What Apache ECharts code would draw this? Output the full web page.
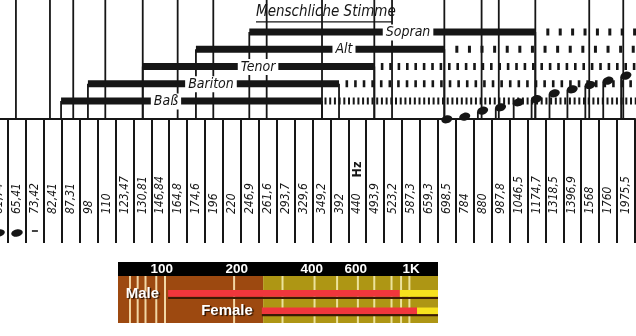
<!DOCTYPE html>
<html><head><meta charset="utf-8">
<script src="https://cdn.jsdelivr.net/npm/echarts@6/dist/echarts.min.js"></script>
<style>html,body{margin:0;padding:0;background:#fff}#c{width:636px;height:336px}</style>
</head><body><div id="c"></div>
<script>
// ===================== DATA =====================
// Frequency columns (white keys) in Hz, German decimal comma
const freqLabels = ['61,74','65,41','73,42','82,41','87,31','98','110','123,47','130,81','146,84','164,8','174,6','196','220','246,9','261,6','293,7','329,6','349,2','392','440','493,9','523,2','587,3','659,3','698,5','784','880','987,8','1046,5','1174,7','1318,5','1396,9','1568','1760','1975,5'];

// Voice ranges, in key-column units (0 = first column)
const voices = ['Sopran', 'Alt', 'Tenor', 'Bariton', 'Baß'];
const voiceLowStep  = [13.97, 10.99, 8.02, 4.96, 3.46];
const voiceHighStep = [29.94, 24.86, 20.95, 18.98, 18.03];

// Reference lines of the upper panel (key-column units)
const refLineSteps = [0.94, 2.84, 4.14, 5.93, 8.02, 9.97, 11.96, 14.94, 18.03, 20.95, 21.94, 24.86, 26.94, 27.90, 29.94, 32.95, 34.85];

// Note heads (column, height above the separator line)
const noteSteps   = [25, 26, 27, 28, 29, 30, 31, 32, 33, 34, 35];
const noteHeights = [-1.3, 1.3, 7.3, 10.7, 15.7, 19, 24.7, 28.7, 33, 37.3, 42.3];
const lowNoteSteps   = [0, 1];
const lowNoteHeights = [10, 10];
const lowDashSteps   = [2];
const lowDashHeights = [12];

// Lower (colour) chart
const groups      = ['Male', 'Female'];
const groupRow    = [1, 2];
const rangeLowHz  = [106, 252];
const rangeHighHz = [902, 1057];
const freqAxisMin = 66.7;
const freqAxisMax = 1283;
const bandEdgesHz = [66.7, 255, 1283];
const gridHz      = [74.5, 80, 86, 95, 103, 195, 305, 410, 505, 612, 712, 835, 912, 985];
const tickHz      = [100, 200, 400, 600, 1000];
const titleText   = 'Menschliche Stimme';

// ===================== STYLE / LAYOUT =====================
const INK = '#161616';
const X_LEFT = -9.86, X_RIGHT = 1.1;
const SEP_Y = 118.5;
const COND = "'DejaVu Sans Condensed', 'DejaVu Sans', sans-serif";
const VOICE_STYLE = [
  { labelFrac: 0.555, gap: 11,  dash: [3, 9.4] },
  { labelFrac: 0.596, gap: 11,  dash: [3, 9.6] },
  { labelFrac: 0.498, gap: 6.5, dash: [2.6, 5.8] },
  { labelFrac: 0.490, gap: 6.5, dash: [2.6, 6] },
  { labelFrac: 0.402, gap: 2.5, dash: [2, 2.7] }
];
const BAND_COLORS = ['#9d4910', '#ae9614'];
const GRID_LINE_COLORS = ['#f2d6a4', '#ece29c'];
const RED = '#f0363c', YELLOW = '#f7e21e', SHADOW = '#3a1b04';
const SCALE_BAND_H = 14;

// ===================== CHART =====================
const chart = echarts.init(document.getElementById('c'), null, { renderer: 'canvas', width: 636, height: 336 });

const gridBase = { left: X_LEFT, right: X_RIGHT, containLabel: false, outerBoundsMode: 'none' };

function renderRefLine(params, api) {
  const a = api.coord([api.value(0), 0]);
  const b = api.coord([api.value(0), 118]);
  return { type: 'line', shape: { x1: a[0], y1: SEP_Y, x2: b[0], y2: b[1] - 2 }, style: { stroke: INK, lineWidth: 1.8 } };
}

function renderVoice(params, api) {
  const i = params.dataIndex;
  const yv = api.value(2);
  const p0 = api.coord([api.value(0), yv]);
  const p1 = api.coord([api.value(1), yv]);
  const cs = params.coordSys;
  const y = p0[1];
  const st = VOICE_STYLE[i];
  const lx = p0[0] + (p1[0] - p0[0]) * st.labelFrac;
  return {
    type: 'group',
    children: [
      { type: 'line', shape: { x1: p0[0], y1: y, x2: p0[0], y2: SEP_Y }, style: { stroke: INK, lineWidth: 1.8 } },
      { type: 'line', shape: { x1: p1[0], y1: y, x2: p1[0], y2: SEP_Y }, style: { stroke: INK, lineWidth: 1.8 } },
      { type: 'rect', shape: { x: p0[0], y: y - 3.5, width: p1[0] - p0[0], height: 7 }, style: { fill: INK } },
      { type: 'line', shape: { x1: p1[0] + st.gap, y1: y, x2: cs.x + cs.width + 20, y2: y },
        style: { stroke: INK, lineWidth: 7, lineDash: st.dash, lineCap: 'butt' } },
      { type: 'text', x: lx, y: y + 0.5,
        style: { text: voices[i], align: 'center', verticalAlign: 'middle', fontSize: 14, fontStyle: 'italic',
                 fontFamily: COND, fill: INK, backgroundColor: '#fff', padding: [1, 3] } }
    ]
  };
}

function renderNote(params, api) {
  const p = api.coord([api.value(0), api.value(1)]);
  const children = [
    { type: 'ellipse', shape: { cx: p[0], cy: p[1], rx: 5.6, ry: 3.9 }, rotation: 0.3, originX: p[0], originY: p[1], style: { fill: INK } }
  ];
  if (p[1] < SEP_Y - 4) {
    children.push({ type: 'line', shape: { x1: p[0] - 4.8, y1: p[1] + 1, x2: p[0] - 4.8, y2: SEP_Y }, style: { stroke: INK, lineWidth: 1.8 } });
  }
  return { type: 'group', children };
}

function renderLowNote(params, api) {
  const p = api.coord([api.value(0), api.value(1)]);
  return { type: 'ellipse', shape: { cx: p[0], cy: p[1], rx: 5.8, ry: 3.6 }, rotation: 0.2, originX: p[0], originY: p[1], style: { fill: INK } };
}
function renderLowDash(params, api) {
  const p = api.coord([api.value(0), api.value(1)]);
  return { type: 'rect', shape: { x: p[0] - 3, y: p[1] - 0.8, width: 6, height: 1.6 }, style: { fill: INK } };
}

function renderScaleBand(params, api) {
  const cs = params.coordSys;
  const a = api.coord([api.value(0), 0]);
  const b = api.coord([api.value(1), 0]);
  return { type: 'rect', shape: { x: a[0], y: cs.y - SCALE_BAND_H, width: b[0] - a[0], height: SCALE_BAND_H }, style: { fill: '#000' } };
}

function renderBand(params, api) {
  const cs = params.coordSys;
  const a = api.coord([api.value(0), 0]);
  const b = api.coord([api.value(1), 0]);
  return { type: 'rect', shape: { x: a[0], y: cs.y, width: b[0] - a[0], height: cs.height }, style: { fill: BAND_COLORS[params.dataIndex] } };
}

function renderGridLine(params, api) {
  const cs = params.coordSys;
  const v = api.value(0);
  const a = api.coord([v, 0]);
  const c = v < bandEdgesHz[1] ? GRID_LINE_COLORS[0] : GRID_LINE_COLORS[1];
  return { type: 'rect', shape: { x: a[0] - 1, y: cs.y, width: 2, height: cs.height }, style: { fill: c } };
}

function renderRange(params, api) {
  const i = params.dataIndex;
  const cs = params.coordSys;
  const row = api.value(0);
  const a = api.coord([api.value(1), row]);
  const b = api.coord([api.value(2), row]);
  const right = cs.x + cs.width;
  const h = 6.6, y = a[1];
  return {
    type: 'group',
    children: [
      { type: 'rect', shape: { x: a[0], y: y + h / 2, width: right - a[0], height: 2.2 }, style: { fill: SHADOW } },
      { type: 'rect', shape: { x: a[0], y: y - h / 2, width: b[0] - a[0], height: h }, style: { fill: RED } },
      { type: 'rect', shape: { x: b[0], y: y - h / 2, width: right - b[0], height: h }, style: { fill: YELLOW } },
      { type: 'text', x: a[0] - 9, y: y,
        style: { text: groups[i], align: 'right', verticalAlign: 'middle', fontSize: 15, fontWeight: 'bold',
                 fontFamily: "'Liberation Sans', Arial, sans-serif", fill: '#fff',
                 textShadowColor: '#2a1200', textShadowOffsetX: 1.5, textShadowOffsetY: 1.5, textShadowBlur: 1 } }
    ]
  };
}

const option = {
  backgroundColor: '#fff',
  animation: false,
  title: {
    text: titleText, left: 256, top: 5, padding: 0,
    textStyle: { fontFamily: COND, fontStyle: 'italic', fontWeight: 'normal', fontSize: 15, color: INK }
  },
  graphic: [
    { type: 'line', shape: { x1: 256, y1: 21.8, x2: 392, y2: 21.8 }, style: { stroke: INK, lineWidth: 1.3 } }
  ],
  grid: [
    Object.assign({ top: 23.375, height: 86.25 }, gridBase),            // 0 voices
    Object.assign({ top: 0, height: 118 }, gridBase),                    // 1 frame / notes
    Object.assign({ top: 118.5, height: 124.5 }, gridBase),              // 2 frequency columns
    { left: 118, width: 320, top: 276, height: 47, containLabel: false, outerBoundsMode: 'none' } // 3 colour chart
  ],
  xAxis: [
    { gridIndex: 0, type: 'value', min: -0.5, max: 35.5, show: false },
    { gridIndex: 1, type: 'value', min: -0.5, max: 35.5, show: false },
    { gridIndex: 2, type: 'category', data: freqLabels, position: 'bottom',
      axisLine: { show: false }, axisTick: { show: false },
      axisLabel: {
        inside: true, rotate: 90, margin: 29, interval: 0, color: INK,
        fontFamily: COND, fontStyle: 'italic', fontSize: 12,
        formatter: v => v === '440' ? '440{gap|}{hz|Hz}' : v,
        rich: { gap: { width: 16 }, hz: { fontWeight: 'bold', fontStyle: 'normal', fontSize: 12.5, fontFamily: COND, color: INK } }
      },
      splitLine: { show: true, interval: 0, lineStyle: { color: INK, width: 2 } }
    },
    { gridIndex: 2, type: 'category', data: freqLabels, position: 'top',
      axisLine: { show: true, lineStyle: { color: INK, width: 2 } },
      axisTick: { show: false }, axisLabel: { show: false }, splitLine: { show: false } },
    { gridIndex: 3, type: 'log', logBase: 10, min: freqAxisMin, max: freqAxisMax, position: 'top',
      axisLine: { show: false }, axisTick: { show: false }, splitLine: { show: false },
      axisLabel: { customValues: tickHz, margin: SCALE_BAND_H / 2, verticalAlign: 'middle', color: '#fff', fontWeight: 'bold',
                   fontSize: 13.5, fontFamily: "'Liberation Sans', Arial, sans-serif",
                   formatter: v => v >= 1000 ? (v / 1000) + 'K' : String(v) } }
  ],
  yAxis: [
    { gridIndex: 0, type: 'category', data: voices, inverse: true, show: false },
    { gridIndex: 1, type: 'value', min: 0, max: 118, show: false },
    { gridIndex: 2, type: 'value', min: 0, max: 124.5, show: false },
    { gridIndex: 3, type: 'value', min: 0, max: 2.7, inverse: true, show: false }
  ],
  series: [
    { type: 'custom', name: 'refLines', xAxisIndex: 1, yAxisIndex: 1, renderItem: renderRefLine,
      data: refLineSteps.map(s => [s]), silent: true },
    { type: 'custom', name: 'voices', xAxisIndex: 0, yAxisIndex: 0, renderItem: renderVoice,
      dimensions: [{ name: 'low', type: 'number' }, { name: 'high', type: 'number' }, { name: 'voice', type: 'ordinal' }],
      encode: { x: [0, 1], y: 2 },
      data: voices.map((v, i) => [voiceLowStep[i], voiceHighStep[i], v]), silent: true },
    { type: 'custom', name: 'notes', xAxisIndex: 1, yAxisIndex: 1, renderItem: renderNote,
      data: noteSteps.map((s, i) => [s, noteHeights[i]]), silent: true },
    { type: 'custom', name: 'lowNotes', xAxisIndex: 2, yAxisIndex: 2, renderItem: renderLowNote,
      data: lowNoteSteps.map((s, i) => [s, lowNoteHeights[i]]), silent: true },
    { type: 'custom', name: 'lowDash', xAxisIndex: 2, yAxisIndex: 2, renderItem: renderLowDash,
      data: lowDashSteps.map((s, i) => [s, lowDashHeights[i]]), silent: true },
    { type: 'custom', name: 'scaleBand', xAxisIndex: 4, yAxisIndex: 3, renderItem: renderScaleBand, z: -1,
      data: [[freqAxisMin, freqAxisMax]], silent: true },
    { type: 'custom', name: 'bands', xAxisIndex: 4, yAxisIndex: 3, renderItem: renderBand, z: -1,
      data: [[bandEdgesHz[0], bandEdgesHz[1]], [bandEdgesHz[1], bandEdgesHz[2]]], silent: true },
    { type: 'custom', name: 'gridLines', xAxisIndex: 4, yAxisIndex: 3, renderItem: renderGridLine,
      data: gridHz.map(v => [v]), silent: true },
    { type: 'custom', name: 'ranges', xAxisIndex: 4, yAxisIndex: 3, renderItem: renderRange,
      data: groups.map((g, i) => [groupRow[i], rangeLowHz[i], rangeHighHz[i]]), silent: true }
  ]
};
chart.setOption(option);
</script>
</body></html>
